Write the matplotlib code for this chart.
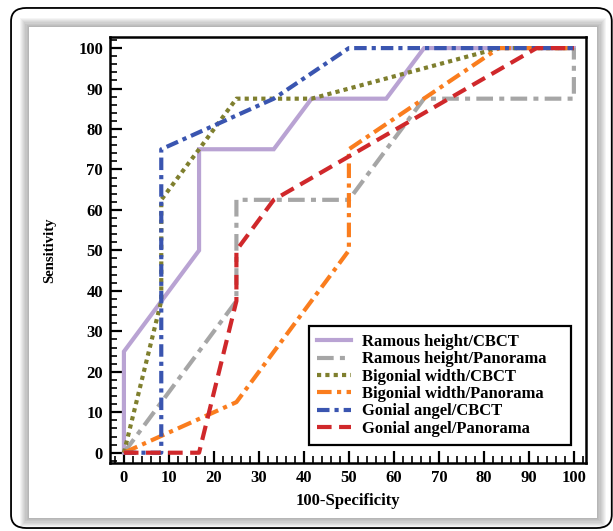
import matplotlib
matplotlib.use("Agg")
import matplotlib.pyplot as plt
from matplotlib.patches import FancyBboxPatch, Rectangle
from matplotlib.ticker import MultipleLocator

plt.rcParams['font.family'] = ['Liberation Serif', 'DejaVu Serif']
plt.rcParams['font.weight'] = 'bold'

# ---- data ----
labels = ["Ramous height/CBCT", "Ramous height/Panorama", "Bigonial width/CBCT",
          "Bigonial width/Panorama", "Gonial angel/CBCT", "Gonial angel/Panorama"]
rh_cbct_x = [0, 0, 16.7, 16.7, 33.3, 41.7, 58.3, 66.7, 100]
rh_cbct_y = [0, 25, 50, 75, 75, 87.5, 87.5, 100, 100]
rh_pan_x = [0, 25, 25, 50, 66.7, 100, 100]
rh_pan_y = [0, 37.5, 62.5, 62.5, 87.5, 87.5, 100]
bw_cbct_x = [0, 8.3, 8.3, 16.7, 25, 41.7, 83.3, 100]
bw_cbct_y = [0, 37.5, 62.5, 75, 87.5, 87.5, 100, 100]
bw_pan_x = [0, 25, 50, 50, 83.3, 100]
bw_pan_y = [0, 12.5, 50, 75, 100, 100]
ga_cbct_x = [0, 8.3, 8.3, 33.3, 50, 100]
ga_cbct_y = [0, 0, 75, 87.5, 100, 100]
ga_pan_x = [0, 16.7, 25, 25, 33.3, 91.7, 100]
ga_pan_y = [0, 0, 37.5, 50, 62.5, 100, 100]
x_ticks = [0, 10, 20, 30, 40, 50, 60, 70, 80, 90, 100]
y_ticks = [0, 10, 20, 30, 40, 50, 60, 70, 80, 90, 100]

series = [
    (rh_cbct_x, rh_cbct_y, '#b9a3d3', None),
    (rh_pan_x, rh_pan_y, '#a6a6a6', (4, 1.5, 1.2, 1.5)),
    (bw_cbct_x, bw_cbct_y, '#7f7f2e', (1, 1)),
    (bw_pan_x, bw_pan_y, '#fa7d1e', (3.5, 1.3, 1, 1.3)),
    (ga_cbct_x, ga_cbct_y, '#3a55b0', (3, 1.2, 1, 1.2)),
    (ga_pan_x, ga_pan_y, '#d0282b', (3.5, 1.8)),
]

fig = plt.figure(figsize=(6.13, 5.31), dpi=100)

# outer rounded frame
frame = FancyBboxPatch((0.018 + 0.02, 0.0056 + 0.02), 0.98 - 0.04, 0.9794 - 0.04,
                       boxstyle="round,pad=0.02,rounding_size=0.025",
                       transform=fig.transFigure, facecolor='white',
                       edgecolor='black', linewidth=1.3, zorder=0)
fig.patches.append(frame)

# shadowed inner panel
pl, pr, pb, pt = 0.0473, 0.974, 0.0245, 0.949
for i in range(8, 0, -1):
    d = i * 0.0022
    fig.patches.append(Rectangle((pl - d * 0.87, pb - d), (pr - pl) + 2 * d * 0.87, (pt - pb) + 2 * d,
                                 transform=fig.transFigure, facecolor='black',
                                 edgecolor='none', alpha=0.04, zorder=0.5))
fig.patches.append(Rectangle((pl, pb), pr - pl, pt - pb, transform=fig.transFigure,
                             facecolor='white', edgecolor='none', zorder=0.6))

ax = fig.add_axes([0.1794, 0.128, 0.956 - 0.1794, 0.930 - 0.128])
ax.set_zorder(1)
ax.patch.set_facecolor('white')

for (xs, ys, c, d), lab in zip(series, labels):
    if d is None:
        ax.plot(xs, ys, color=c, lw=3, label=lab, solid_joinstyle='miter')
    else:
        ax.plot(xs, ys, color=c, lw=3, label=lab, dashes=d, dash_capstyle='butt')

ax.set_xlim(-3.1, 102.7)
ax.set_ylim(-2.55, 102.7)
ax.set_xticks(x_ticks)
ax.set_yticks(y_ticks)
ax.xaxis.set_minor_locator(MultipleLocator(2))
ax.yaxis.set_minor_locator(MultipleLocator(2))
ax.tick_params(which='major', direction='in', length=8.5, width=1.6, labelsize=12, pad=5)
ax.tick_params(which='minor', direction='in', length=5, width=1.2)
for lbl in ax.get_xticklabels() + ax.get_yticklabels():
    lbl.set_fontweight('bold')
for s in ax.spines.values():
    s.set_linewidth(1.8)

ax.set_xlabel('100-Specificity', fontsize=12, fontweight='bold', labelpad=5)
ax.set_ylabel('Sensitivity', fontsize=10.5, fontweight='bold', labelpad=16)

leg = ax.legend(loc='lower left', bbox_to_anchor=(0.418, 0.042, 0.55, 0.28), mode='expand',
                borderaxespad=0,
                fancybox=False, edgecolor='black', framealpha=1,
                prop={'family': 'Liberation Serif', 'weight': 'bold', 'size': 12},
                handlelength=2.0, labelspacing=0.08, borderpad=0.5, handletextpad=0.7)
leg.get_frame().set_linewidth(1.6)

fig.savefig('out.png', dpi=100)
